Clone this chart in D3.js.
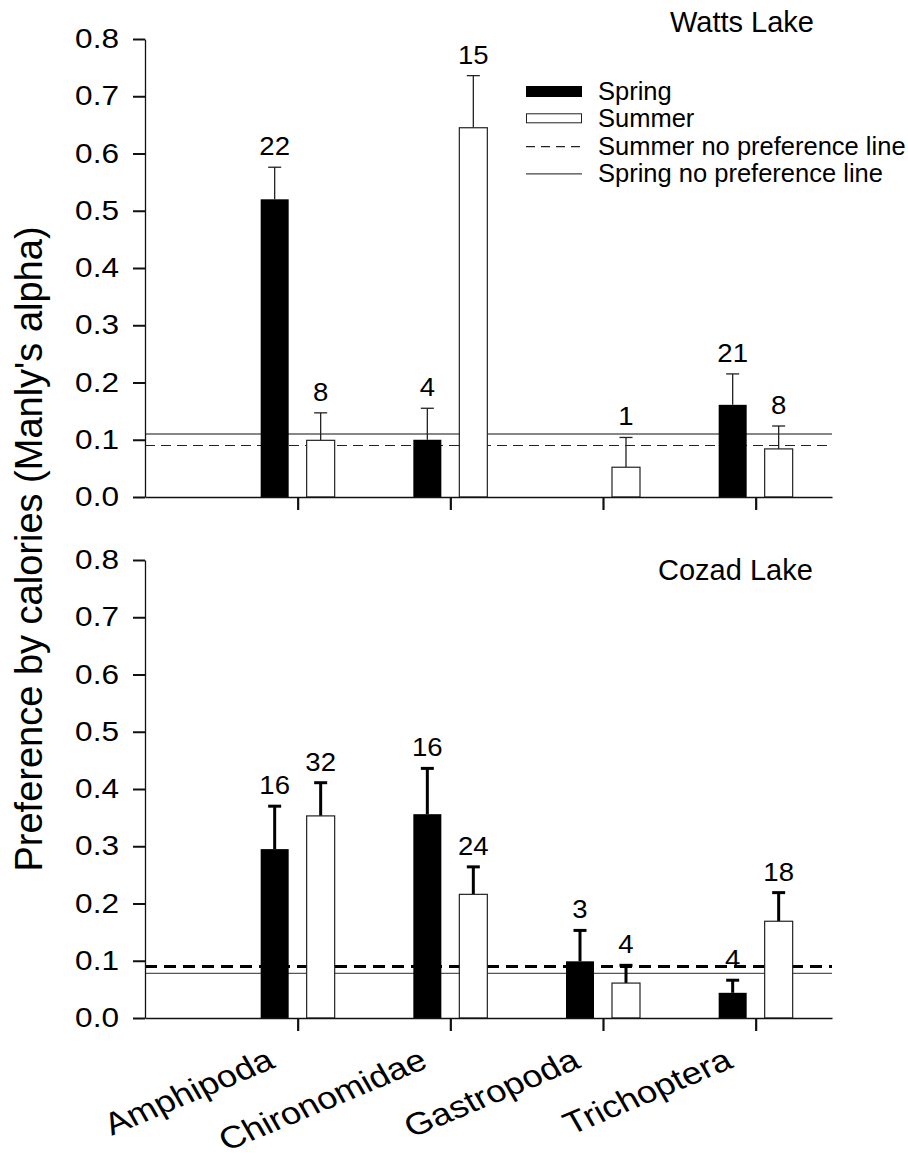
<!DOCTYPE html>
<html>
<head>
<meta charset="utf-8">
<script src="https://cdn.jsdelivr.net/npm/d3@7"></script>
<style>
  html, body { margin: 0; padding: 0; background: #fff; }
  text { font-family: "Liberation Sans", Arial, Helvetica, sans-serif; fill: #000; }
</style>
</head>
<body>
<div id="chart"></div>
<script>
// data
const categories = ["Amphipoda", "Chironomidae", "Gastropoda", "Trichoptera"];
const seasons = ["Spring", "Summer"];
const yTicks = [0, 0.1, 0.2, 0.3, 0.4, 0.5, 0.6, 0.7, 0.8];

const wattsSpring    = [0.52, 0.10, null, 0.161];
const wattsSpringErr = [0.056, 0.055, null, 0.054];
const wattsSpringN   = [22, 4, null, 21];
const wattsSummer    = [0.099, 0.645, 0.052, 0.084];
const wattsSummerErr = [0.048, 0.091, 0.052, 0.04];
const wattsSummerN   = [8, 15, 1, 8];

const cozadSpring    = [0.295, 0.356, 0.099, 0.044];
const cozadSpringErr = [0.075, 0.08, 0.054, 0.022];
const cozadSpringN   = [16, 16, 3, 4];
const cozadSummer    = [0.353, 0.216, 0.061, 0.169];
const cozadSummerErr = [0.058, 0.048, 0.031, 0.05];
const cozadSummerN   = [32, 24, 4, 18];

const lakes = ["Watts Lake", "Cozad Lake"];
const springNoPref = [0.11, 0.078];
const summerNoPref = [0.09, 0.09];

const legendLabels = ["Spring", "Summer", "Summer no preference line", "Spring no preference line"];

const width = 908;
const height = 1159;
// the original figure is a little wider than tall in its lettering
const stretch = 1.17;

const svg = d3.select("#chart")
    .append("svg")
    .attr("width", width)
    .attr("height", height);

const x = d3.scaleLinear().domain([0, 4.5]).range([145, 832]);
const xSub = d3.scaleBand().domain(seasons).range([-37, 37]).paddingInner(0.391);

function buildRows(spring, springErr, springN, summer, summerErr, summerN) {
    const rows = [];
    categories.forEach((c, i) => {
        rows.push({ cat: i, season: "Spring", v: spring[i], e: springErr[i], n: springN[i] });
        rows.push({ cat: i, season: "Summer", v: summer[i], e: summerErr[i], n: summerN[i] });
    });
    return rows.filter(d => d.v !== null);
}

const panels = [
    {
        name: lakes[0], top: 39, bottom: 497, titleX: 670, titleY: 32,
        rows: buildRows(wattsSpring, wattsSpringErr, wattsSpringN, wattsSummer, wattsSummerErr, wattsSummerN),
        spring: springNoPref[0], summer: summerNoPref[0],
        springStyle: { stroke: "#111", width: 1.1 },
        summerStyle: { stroke: "#222", width: 1.1, dash: "10,6" },
        errStyle: { stroke: "#222", width: 1.3 },
        labels: false
    },
    {
        name: lakes[1], top: 560, bottom: 1018, titleX: 658, titleY: 580,
        rows: buildRows(cozadSpring, cozadSpringErr, cozadSpringN, cozadSummer, cozadSummerErr, cozadSummerN),
        spring: springNoPref[1], summer: summerNoPref[1],
        springStyle: { stroke: "#555", width: 1.4 },
        summerStyle: { stroke: "#000", width: 3, dash: "12,7" },
        errStyle: { stroke: "#000", width: 3 },
        labels: true
    }
];

panels.forEach(p => {
    const y = d3.scaleLinear().domain([0, 0.8]).range([p.bottom, p.top]);
    const g = svg.append("g");

    // no preference lines (behind the bars)
    g.append("line")
        .attr("x1", x(0)).attr("x2", x(4.5))
        .attr("y1", y(p.spring)).attr("y2", y(p.spring))
        .attr("stroke", p.springStyle.stroke)
        .attr("stroke-width", p.springStyle.width);
    g.append("line")
        .attr("x1", x(0)).attr("x2", x(4.5))
        .attr("y1", y(p.summer)).attr("y2", y(p.summer))
        .attr("stroke", p.summerStyle.stroke)
        .attr("stroke-width", p.summerStyle.width)
        .attr("stroke-dasharray", p.summerStyle.dash);

    // error bars
    const bx = d => x(d.cat + 1) + xSub(d.season) + xSub.bandwidth() / 2;
    g.selectAll(".whisker")
        .data(p.rows)
        .enter()
        .append("line")
        .attr("x1", bx).attr("x2", bx)
        .attr("y1", d => y(d.v)).attr("y2", d => y(d.v + d.e))
        .attr("stroke", p.errStyle.stroke)
        .attr("stroke-width", p.errStyle.width);
    g.selectAll(".cap")
        .data(p.rows)
        .enter()
        .append("line")
        .attr("x1", d => bx(d) - 6.5).attr("x2", d => bx(d) + 6.5)
        .attr("y1", d => y(d.v + d.e)).attr("y2", d => y(d.v + d.e))
        .attr("stroke", p.errStyle.stroke)
        .attr("stroke-width", p.errStyle.width);

    // bars
    g.selectAll("rect")
        .data(p.rows)
        .enter()
        .append("rect")
        .attr("x", d => x(d.cat + 1) + xSub(d.season))
        .attr("y", d => y(d.v))
        .attr("width", xSub.bandwidth())
        .attr("height", d => y(0) - y(d.v))
        .attr("fill", d => d.season === "Spring" ? "#000" : "#fff")
        .attr("stroke", d => d.season === "Spring" ? "none" : "#222")
        .attr("stroke-width", 1.2);

    // sample sizes
    g.selectAll(".n")
        .data(p.rows)
        .enter()
        .append("text")
        .attr("text-anchor", "middle")
        .attr("font-size", 26)
        .attr("transform", d => "translate(" + bx(d) + "," + (y(d.v + d.e) - 12) + ") scale(1.06,1)")
        .text(d => d.n);

    // axes
    const yAxis = d3.axisLeft(y)
        .tickValues(yTicks)
        .tickFormat(d3.format(".1f"))
        .tickSize(12)
        .tickSizeOuter(0)
        .tickPadding(13);
    const ya = g.append("g")
        .attr("transform", "translate(" + x(0) + ",0)")
        .call(yAxis);
    ya.select(".domain").attr("stroke", "#111").attr("stroke-width", 1.3);
    ya.selectAll(".tick line").attr("stroke", "#111").attr("stroke-width", 2);
    ya.selectAll(".tick text")
        .attr("x", null)
        .attr("transform", "translate(-26,0) scale(" + stretch + ",1)")
        .attr("font-size", 27)
        .attr("font-family", "Liberation Sans, Arial, sans-serif")
        .attr("fill", "#000");

    const xAxis = d3.axisBottom(x)
        .tickValues([1, 2, 3, 4])
        .tickSize(13)
        .tickSizeOuter(0)
        .tickFormat("");
    const xa = g.append("g")
        .attr("transform", "translate(0," + y(0) + ")")
        .call(xAxis);
    xa.select(".domain").attr("stroke", "#111").attr("stroke-width", 1.3);
    xa.selectAll(".tick line").attr("stroke", "#111").attr("stroke-width", 2.2);

    if (p.labels) {
        g.selectAll(".cat")
            .data(categories)
            .enter()
            .append("text")
            .attr("text-anchor", "end")
            .attr("font-size", 31)
            .attr("transform", (d, i) => "translate(" + (x(i + 1) - 21) + "," + (y(0) + 49) + ") scale(" + stretch + ",1) rotate(-26)")
            .text(d => d);
    }

    g.append("text")
        .attr("x", p.titleX)
        .attr("y", p.titleY)
        .attr("font-size", 29)
        .text(p.name);
});

// y axis title
svg.append("text")
    .attr("text-anchor", "middle")
    .attr("font-size", 38)
    .attr("transform", "translate(42,549) rotate(-90)")
    .text("Preference by calories (Manly's alpha)");

// legend
const legend = svg.append("g").attr("transform", "translate(526,100)");
const rowH = 27.3;
legend.selectAll("text")
    .data(legendLabels)
    .enter()
    .append("text")
    .attr("x", 72)
    .attr("y", (d, i) => i * rowH)
    .attr("font-size", 25.5)
    .text(d => d);

legend.append("rect")
    .attr("x", 0).attr("y", -14).attr("width", 56).attr("height", 11)
    .attr("fill", "#000");
legend.append("rect")
    .attr("x", 0.5).attr("y", rowH - 13.5).attr("width", 55).attr("height", 9)
    .attr("fill", "#fff").attr("stroke", "#222").attr("stroke-width", 1);
legend.append("line")
    .attr("x1", 0).attr("x2", 56)
    .attr("y1", 2 * rowH - 8).attr("y2", 2 * rowH - 8)
    .attr("stroke", "#222").attr("stroke-width", 1.1)
    .attr("stroke-dasharray", "9,6");
legend.append("line")
    .attr("x1", 0).attr("x2", 56)
    .attr("y1", 3 * rowH - 8).attr("y2", 3 * rowH - 8)
    .attr("stroke", "#444").attr("stroke-width", 1.1);
</script>
</body>
</html>
